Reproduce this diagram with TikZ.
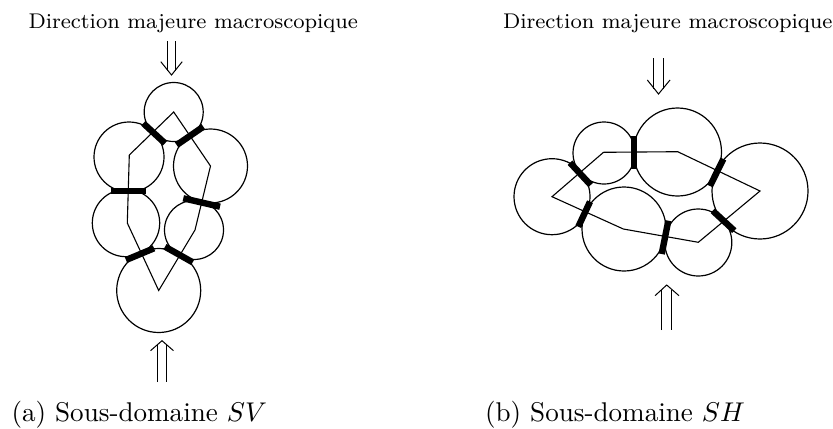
\documentclass[tikz,border=0pt]{standalone}
\begin{document}
\begin{tikzpicture}[x=0.5pt, y=-0.5pt, every node/.style={inner sep=0pt, outer sep=0pt}]
        \tikzstyle{cell}=[draw, circle, line width=0.6pt]
        \tikzstyle{chain}=[line width=0.55pt, line join=miter]
        \tikzstyle{joint}=[line width=3.2pt]
        \tikzstyle{major}=[line width=0.5pt, double]
        \tikzstyle{barb}=[line width=0.5pt]
        \tikzstyle{title}=[font=\fontsize{8}{10}\selectfont, scale=1.33, anchor=base west]
        \tikzstyle{caption}=[font=\fontsize{10}{12}\selectfont, scale=1.355, anchor=base west]
        \useasboundingbox (0,0) rectangle (833,428);
        % left
        \node[title] (tv) at (28.5,28.3) {Direction majeure macroscopique};
        \node[cell, minimum size=29.5pt] (v1) at (173.7,112) {};
        \node[cell, minimum size=35pt] (v2) at (129,157) {};
        \node[cell, minimum size=37pt] (v3) at (210.5,166) {};
        \node[cell, minimum size=33.7pt] (v4) at (126,223) {};
        \node[cell, minimum size=29.5pt] (v5) at (194,230) {};
        \node[cell, minimum size=42pt] (v6) at (158.7,290.5) {};
        \coordinate (v2c) at (129.3,155);
        \coordinate (v4c) at (127.3,223);
        \coordinate (v5c) at (195,230);
        \draw[chain] (v1.center) -- (v2c) -- (v4c) -- (v6.center) -- (v5c) -- (v3.center) -- cycle;
        \draw[joint] (143.3,123.3) -- (165,143.3);
        \draw[joint] (176.7,145) -- (203.3,126.7);
        \draw[joint] (110.7,191) -- (146,191);
        \draw[joint] (183.3,198.3) -- (220,206.7);
        \draw[joint] (126,260) -- (154,248.3);
        \draw[joint] (165,246.7) -- (192.7,262.3);
        \coordinate (va) at (171.5,41);
        \coordinate (vb) at (171.5,70.5);
        \coordinate (vc) at (171.5,75);
        \draw[major, double distance=3.2pt] (va) -- (vb);
        \draw[barb] (160.8,61.7) -- (vc) -- (182.2,61.7);
        \coordinate (wa) at (162,382);
        \coordinate (wb) at (162,345);
        \coordinate (wc) at (162,340.7);
        \draw[major, double distance=4.2pt] (wa) -- (wb);
        \draw[barb] (150.5,350.7) -- (wc) -- (173.5,350.7);
        \node[caption] (ca) at (11.5,421.7) {(a) Sous-domaine $SV$};
        % right
        \node[title] (th) at (503,28.3) {Direction majeure macroscopique};
        \node[cell, minimum size=38pt] (h1) at (552,196.7) {};
        \node[cell, minimum size=31pt] (h2) at (604,153) {};
        \node[cell, minimum size=44pt] (h3) at (677.5,152) {};
        \node[cell, minimum size=48pt] (h4) at (760,191) {};
        \node[cell, minimum size=33.5pt] (h5) at (698.3,242.5) {};
        \node[cell, minimum size=42pt] (h6) at (624,229) {};
        \coordinate (h2c) at (603.5,152.3);
        \coordinate (h3c) at (677.7,151.7);
        \coordinate (h5c) at (698.3,242.3);
        \coordinate (h6c) at (623.3,229);
        \draw[chain] (h1.center) -- (h2c) -- (h3c) -- (h4.center) -- (h5c) -- (h6c) -- cycle;
        \draw[joint] (570,162.7) -- (590.7,185);
        \draw[joint] (590,201.7) -- (578.3,226.7);
        \draw[joint] (633.7,136) -- (633.7,169.3);
        \draw[joint] (668.3,220.7) -- (661.7,254);
        \draw[joint] (723.3,159) -- (710,186);
        \draw[joint] (712.7,210.7) -- (734.3,230.7);
        \coordinate (ha) at (658.5,58);
        \coordinate (hb) at (658.5,89);
        \coordinate (hc) at (658.5,94);
        \draw[major, double distance=4.2pt] (ha) -- (hb);
        \draw[barb] (647.3,80) -- (hc) -- (670,80);
        \coordinate (ka) at (666.7,330);
        \coordinate (kb) at (666.7,290);
        \coordinate (kc) at (666.7,285);
        \draw[major, double distance=4.5pt] (ka) -- (kb);
        \draw[barb] (655,295.7) -- (kc) -- (679,295.7);
        \node[caption] (cb) at (485,421.7) {(b) Sous-domaine $SH$};
      \end{tikzpicture}
\end{document}
